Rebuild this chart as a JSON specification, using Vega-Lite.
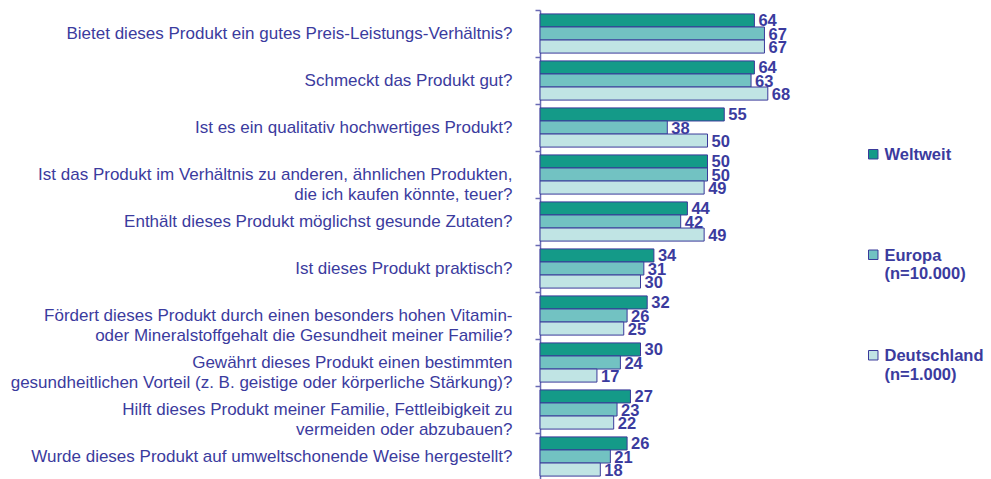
{
  "$schema": "https://vega.github.io/schema/vega-lite/v6.json",
  "autosize": "none",
  "width": 335,
  "height": 470,
  "padding": {"left": 540, "top": 10, "right": 116, "bottom": 0},
  "background": "white",
  "config": {"view": {"stroke": null}, "font": "Liberation Sans"},
  "data": {"values": [
    {"q": "Bietet dieses Produkt ein gutes Preis-Leistungs-Verhältnis?", "s": "Weltweit", "v": 64},
    {"q": "Bietet dieses Produkt ein gutes Preis-Leistungs-Verhältnis?", "s": "Europa (n=10.000)", "v": 67},
    {"q": "Bietet dieses Produkt ein gutes Preis-Leistungs-Verhältnis?", "s": "Deutschland (n=1.000)", "v": 67},
    {"q": "Schmeckt das Produkt gut?", "s": "Weltweit", "v": 64},
    {"q": "Schmeckt das Produkt gut?", "s": "Europa (n=10.000)", "v": 63},
    {"q": "Schmeckt das Produkt gut?", "s": "Deutschland (n=1.000)", "v": 68},
    {"q": "Ist es ein qualitativ hochwertiges Produkt?", "s": "Weltweit", "v": 55},
    {"q": "Ist es ein qualitativ hochwertiges Produkt?", "s": "Europa (n=10.000)", "v": 38},
    {"q": "Ist es ein qualitativ hochwertiges Produkt?", "s": "Deutschland (n=1.000)", "v": 50},
    {"q": "Ist das Produkt im Verhältnis zu anderen, ähnlichen Produkten,|die ich kaufen könnte, teuer?", "s": "Weltweit", "v": 50},
    {"q": "Ist das Produkt im Verhältnis zu anderen, ähnlichen Produkten,|die ich kaufen könnte, teuer?", "s": "Europa (n=10.000)", "v": 50},
    {"q": "Ist das Produkt im Verhältnis zu anderen, ähnlichen Produkten,|die ich kaufen könnte, teuer?", "s": "Deutschland (n=1.000)", "v": 49},
    {"q": "Enthält dieses Produkt möglichst gesunde Zutaten?", "s": "Weltweit", "v": 44},
    {"q": "Enthält dieses Produkt möglichst gesunde Zutaten?", "s": "Europa (n=10.000)", "v": 42},
    {"q": "Enthält dieses Produkt möglichst gesunde Zutaten?", "s": "Deutschland (n=1.000)", "v": 49},
    {"q": "Ist dieses Produkt praktisch?", "s": "Weltweit", "v": 34},
    {"q": "Ist dieses Produkt praktisch?", "s": "Europa (n=10.000)", "v": 31},
    {"q": "Ist dieses Produkt praktisch?", "s": "Deutschland (n=1.000)", "v": 30},
    {"q": "Fördert dieses Produkt durch einen besonders hohen Vitamin-|oder Mineralstoffgehalt die Gesundheit meiner Familie?", "s": "Weltweit", "v": 32},
    {"q": "Fördert dieses Produkt durch einen besonders hohen Vitamin-|oder Mineralstoffgehalt die Gesundheit meiner Familie?", "s": "Europa (n=10.000)", "v": 26},
    {"q": "Fördert dieses Produkt durch einen besonders hohen Vitamin-|oder Mineralstoffgehalt die Gesundheit meiner Familie?", "s": "Deutschland (n=1.000)", "v": 25},
    {"q": "Gewährt dieses Produkt einen bestimmten|gesundheitlichen Vorteil (z. B. geistige oder körperliche Stärkung)?", "s": "Weltweit", "v": 30},
    {"q": "Gewährt dieses Produkt einen bestimmten|gesundheitlichen Vorteil (z. B. geistige oder körperliche Stärkung)?", "s": "Europa (n=10.000)", "v": 24},
    {"q": "Gewährt dieses Produkt einen bestimmten|gesundheitlichen Vorteil (z. B. geistige oder körperliche Stärkung)?", "s": "Deutschland (n=1.000)", "v": 17},
    {"q": "Hilft dieses Produkt meiner Familie, Fettleibigkeit zu|vermeiden oder abzubauen?", "s": "Weltweit", "v": 27},
    {"q": "Hilft dieses Produkt meiner Familie, Fettleibigkeit zu|vermeiden oder abzubauen?", "s": "Europa (n=10.000)", "v": 23},
    {"q": "Hilft dieses Produkt meiner Familie, Fettleibigkeit zu|vermeiden oder abzubauen?", "s": "Deutschland (n=1.000)", "v": 22},
    {"q": "Wurde dieses Produkt auf umweltschonende Weise hergestellt?", "s": "Weltweit", "v": 26},
    {"q": "Wurde dieses Produkt auf umweltschonende Weise hergestellt?", "s": "Europa (n=10.000)", "v": 21},
    {"q": "Wurde dieses Produkt auf umweltschonende Weise hergestellt?", "s": "Deutschland (n=1.000)", "v": 18}
  ]},
  "encoding": {
    "y": {
      "field": "q", "type": "nominal", "sort": null, "title": null,
      "scale": {"paddingInner": 0, "paddingOuter": 0},
      "axis": {
        "labelExpr": "split(datum.label, '|')",
        "labelFont": "Liberation Sans", "labelFontSize": 17, "labelLineHeight": 20,
        "labelColor": "#3b3b9e", "labelLimit": 0, "labelPadding": 23,
        "tickBand": "extent", "tickSize": 5, "tickColor": "#6a6ab4", "domainColor": "#6a6ab4",
        "domainWidth": 1.5, "tickWidth": 1.5
      }
    },
    "yOffset": {
      "field": "s", "type": "nominal", "sort": ["Weltweit", "Europa (n=10.000)", "Deutschland (n=1.000)"],
      "scale": {"paddingInner": 0, "paddingOuter": 0.3}
    },
    "x": {"field": "v", "type": "quantitative", "scale": {"domain": [0, 100]}, "axis": null}
  },
  "layer": [
    {
      "mark": {"type": "bar", "stroke": "#3a3a9a", "strokeWidth": 1},
      "encoding": {
        "color": {
          "field": "s", "type": "nominal",
          "sort": ["Weltweit", "Europa (n=10.000)", "Deutschland (n=1.000)"],
          "scale": {"domain": ["Weltweit", "Europa (n=10.000)", "Deutschland (n=1.000)"], "range": ["#149a88", "#72c2c2", "#c0e4e4"]},
          "legend": {
            "title": null, "orient": "none", "legendX": 325, "legendY": 136,
            "symbolType": "square", "symbolSize": 90, "symbolStrokeColor": "#3a3a9a", "symbolStrokeWidth": 1,
            "labelExpr": "datum.label == 'Weltweit' ? ['Weltweit', ' '] : split(replace(datum.label, ' (', '|('), '|')",
            "labelFont": "Liberation Sans", "labelFontSize": 16.5, "labelFontWeight": "bold",
            "labelColor": "#3b3b9e", "labelLineHeight": 20, "labelBaseline": "top", "labelOffset": 3,
            "rowPadding": 63.5, "labelLimit": 0,
            "encode": {"labels": {"update": {"dy": {"value": -7}}}}
          }
        }
      }
    },
    {
      "mark": {"type": "text", "align": "left", "baseline": "middle", "dx": 4, "dy": 1, "font": "Liberation Sans", "fontSize": 16.5, "fontWeight": "bold", "color": "#3b3b9e"},
      "encoding": {"text": {"field": "v", "type": "quantitative"}}
    }
  ]
}
